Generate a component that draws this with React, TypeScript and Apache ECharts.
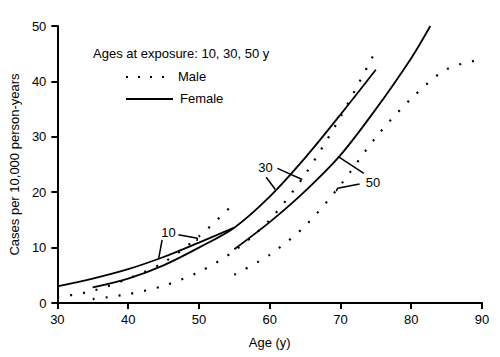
import React, { useEffect, useRef } from "react";
import * as echarts from "echarts";

const FONT = "'Liberation Sans', Arial, Helvetica, sans-serif";

const xTicks = [30, 40, 50, 60, 70, 80, 90];
const yTicks = [0, 10, 20, 30, 40, 50];

const ages10F = [30, 35, 40, 45, 50, 55];
const female10 = [3.0, 4.4, 6.1, 8.3, 10.9, 13.6];
const ages10M = [30, 35, 40, 45, 50, 55];
const male10 = [1.0, 2.2, 4.4, 7.3, 12.0, 18.0];

const ages30F = [35, 40, 45, 50, 55, 60, 65, 70, 75];
const female30 = [2.8, 4.4, 6.8, 10.0, 13.6, 19.2, 26.2, 34.0, 42.1];
const ages30M = [35, 40, 45, 50, 55, 60, 65, 70, 74.6];
const male30 = [0.7, 1.6, 3.1, 5.6, 9.4, 15.0, 23.2, 33.6, 44.6];

const ages50F = [55, 60, 65, 70, 75, 80, 82.7];
const female50 = [9.7, 14.6, 20.2, 26.7, 35.0, 44.2, 50];
const ages50M = [55, 60, 65, 70, 75, 80, 85, 90];
const male50 = [5.1, 8.7, 13.9, 21.3, 29.9, 36.9, 42.2, 44.0];

// annotation labels (data coordinates) and leader lines
const annoLabels = ["10", "30", "50"];
const annoLabelPos = [
  [45.7, 12.8],
  [59.4, 24.4],
  [74.6, 21.7],
];
const leaders = [
  [[44.8, 11.4], [44.3, 7.9]],
  [[47.1, 12.3], [49.8, 11.7], [49.7, 11.2]],
  [[61.1, 24.3], [64.6, 22.3]],
  [[59.5, 22.7], [60.8, 20.5]],
  [[69.7, 26.4], [73.3, 23.4]],
  [[72.7, 21.5], [69.6, 20.7], [69.4, 20.2]],
];

const zip = (xs: number[], ys: number[]) => xs.map((x, i) => [x, ys[i]]);

export default function App() {
  const ref = useRef<HTMLDivElement>(null);
  useEffect(() => {
    if (!ref.current) return;
    const chart = echarts.init(ref.current, null, { renderer: "svg" });
    const solid = { color: "#000", width: 1.8, type: "solid" as const };
    const dotted = { color: "#000", width: 2.2, type: [2, 11] as any, cap: "butt" as const };
    const mk = (name: string, xs: number[], ys: number[], ls: any) => ({
      name,
      type: "line",
      data: zip(xs, ys),
      smooth: 0.3,
      showSymbol: false,
      symbol: "none",
      silent: true,
      lineStyle: ls,
      z: 3,
    });
    const series: any[] = [
      mk("Female 10", ages10F, female10, solid),
      mk("Male 10", ages10M, male10, dotted),
      mk("Female 30", ages30F, female30, solid),
      mk("Male 30", ages30M, male30, dotted),
      mk("Female 50", ages50F, female50, solid),
      mk("Male 50", ages50M, male50, dotted),
    ];
    leaders.forEach((pts, i) => {
      series.push({
        name: "leader" + i,
        type: "line",
        data: pts,
        showSymbol: false,
        symbol: "none",
        silent: true,
        lineStyle: { color: "#000", width: 1.5 },
        z: 4,
      });
    });
    chart.setOption({
      animation: false,
      grid: { left: 57, right: 18, top: 26, bottom: 54, containLabel: false },
      xAxis: {
        type: "value",
        min: xTicks[0],
        max: xTicks[xTicks.length - 1],
        interval: 10,
        name: "Age (y)",
        nameLocation: "middle",
        nameGap: 33,
        nameTextStyle: { color: "#000", fontSize: 13, fontFamily: FONT },
        axisLine: { show: true, onZero: false, lineStyle: { color: "#000", width: 2 } },
        axisTick: { show: true, length: 6, lineStyle: { color: "#000", width: 2 } },
        axisLabel: { color: "#000", fontSize: 13, fontFamily: FONT, margin: 10 },
        splitLine: { show: false },
      },
      yAxis: {
        type: "value",
        min: yTicks[0],
        max: yTicks[yTicks.length - 1],
        interval: 10,
        name: "Cases per 10,000 person-years",
        nameLocation: "middle",
        nameGap: 32,
        nameTextStyle: { color: "#000", fontSize: 13, fontFamily: FONT },
        axisLine: { show: true, lineStyle: { color: "#000", width: 2 } },
        axisTick: { show: true, length: 6, lineStyle: { color: "#000", width: 2 } },
        axisLabel: { color: "#000", fontSize: 13, fontFamily: FONT, margin: 11 },
        splitLine: { show: false },
      },
      series,
    });

    const graphic: any[] = [
      {
        type: "text",
        left: 93,
        top: 47,
        style: { text: "Ages at exposure: 10, 30, 50 y", fill: "#000", font: `13px ${FONT}` },
      },
      {
        type: "line",
        shape: { x1: 126, y1: 77, x2: 166, y2: 77 },
        style: { stroke: "#000", lineWidth: 2.2, lineDash: [2, 10] },
      },
      {
        type: "text",
        left: 178,
        top: 70,
        style: { text: "Male", fill: "#000", font: `13px ${FONT}` },
      },
      {
        type: "line",
        shape: { x1: 126, y1: 99, x2: 173, y2: 99 },
        style: { stroke: "#000", lineWidth: 1.8 },
      },
      {
        type: "text",
        left: 180,
        top: 92,
        style: { text: "Female", fill: "#000", font: `13px ${FONT}` },
      },
    ];
    annoLabels.forEach((t, i) => {
      const p = chart.convertToPixel({ gridIndex: 0 }, annoLabelPos[i]) as number[];
      graphic.push({
        type: "text",
        x: p[0],
        y: p[1],
        style: {
          text: t,
          fill: "#000",
          font: `13px ${FONT}`,
          align: "center",
          verticalAlign: "middle",
          backgroundColor: "#fff",
        },
        z: 10,
      });
    });
    chart.setOption({ graphic });
    return () => chart.dispose();
  }, []);
  return (
    <div
      ref={ref}
      style={{ position: "absolute", left: 0, top: 0, width: 500, height: 357 }}
    />
  );
}
